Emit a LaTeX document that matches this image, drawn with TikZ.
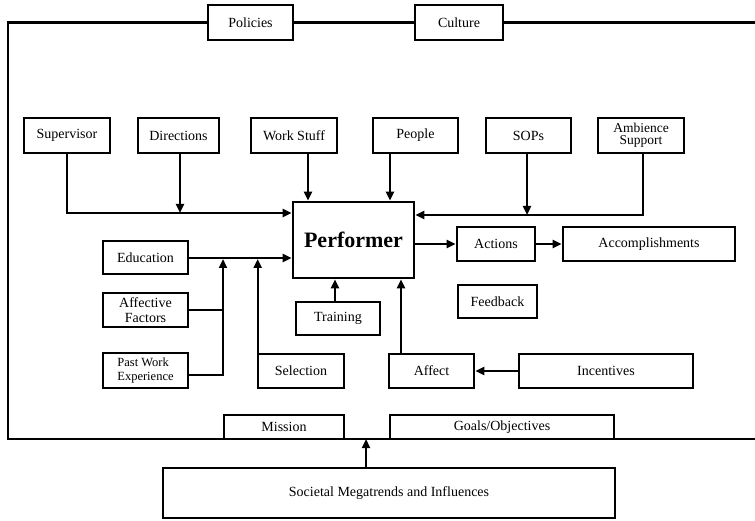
\documentclass[tikz,border=0pt]{standalone}
\usepackage{fontspec}
\setmainfont{Liberation Serif}
\usetikzlibrary{arrows.meta}
\begin{document}
\begin{tikzpicture}[x=1pt,y=-1pt,
  box/.style={draw, line width=2.6pt, inner sep=0pt, align=center,
    font=\fontsize{14}{14}\selectfont},
  conn/.style={line width=2.3pt},
  arr/.style={conn, -{Triangle[length=9pt,width=8pt]}}]
\useasboundingbox (0,0) rectangle (755,521);
% top
\node[box, minimum width=85pt, minimum height=35pt] (pol) at (250.5,22.5) {Policies};
\node[box, minimum width=88pt, minimum height=35pt] (cul) at (459,22.5) {Culture};
% top row
\node[box, minimum width=86pt, minimum height=35pt] (sup) at (67,135.5) {Supervisor};
\node[box, minimum width=81pt, minimum height=35pt] (dir) at (178.5,135.5) {Directions};
\node[box, minimum width=86pt, minimum height=35pt] (ws) at (294,135.5) {Work Stuff};
\node[box, minimum width=85pt, minimum height=35pt] (peo) at (415.5,135.5) {People};
\node[box, minimum width=85pt, minimum height=35pt] (sop) at (528.5,135.5) {SOPs};
\node[box, minimum width=86pt, minimum height=35pt, font=\fontsize{13.5}{12.5}\selectfont] (amb) at (641,135.5) {Ambience\\Support};
% centre
\node[box, minimum width=121pt, minimum height=76pt, font=\bfseries\fontsize{22}{22}\selectfont] (perf) at (353.5,240) {Performer};
\node[box, minimum width=85pt, minimum height=33pt] (edu) at (145.5,257.5) {Education};
\node[box, minimum width=85pt, minimum height=34pt, font=\fontsize{14}{15}\selectfont] (af) at (145.5,310) {Affective\\Factors};
\node[box, minimum width=85pt, minimum height=35pt, align=left, font=\fontsize{12.5}{14}\selectfont] (pw) at (145.5,370.5) {Past Work\\Experience};
\node[box, minimum width=86pt, minimum height=34pt] (sel) at (301,371) {Selection};
\node[box, minimum width=84pt, minimum height=33pt] (tr) at (338,318.5) {Training};
\node[box, minimum width=78pt, minimum height=34pt] (act) at (496,244) {Actions};
\node[box, minimum width=172pt, minimum height=34pt] (acc) at (649,244) {Accomplishments};
\node[box, minimum width=79pt, minimum height=33pt] (fb) at (497.5,301.5) {Feedback};
\node[box, minimum width=85pt, minimum height=34pt] (aff) at (431.5,371) {Affect};
\node[box, minimum width=174pt, minimum height=34pt] (inc) at (606,371) {Incentives};
% bottom
\node[box, minimum width=120pt, minimum height=24pt] (mis) at (284,427) {Mission};
\node[box, minimum width=224pt, minimum height=24pt] (goal) at (502,427) {Goals/Objectives};
\node[box, minimum width=452pt, minimum height=50pt] (soc) at (389,493) {Societal Megatrends and Influences};
% frame
\coordinate (tl) at (8,22.5);
\coordinate (bl) at (8,439);
\coordinate (br) at (755,439);
\coordinate (tr2) at (755,22.5);
\draw[conn] (pol.west) -- (tl) -- (bl) -- (br);
\draw[conn] (pol.east) -- (cul.west);
\draw[conn] (cul.east) -- (tr2);
% top connectors
\coordinate (sup1) at (67,213);
\draw[arr] (sup.south) |- (perf.west |- sup1);
\coordinate (d1) at ([xshift=1.5pt]dir.south);
\draw[arr] (d1) -- (d1 |- sup1);
\coordinate (w1) at ([xshift=14pt]ws.south);
\draw[arr] (w1) -- (w1 |- perf.north);
\coordinate (p1) at ([xshift=-25.5pt]peo.south);
\draw[arr] (p1) -- (p1 |- perf.north);
\coordinate (amb1) at (643,215);
\draw[arr] (amb.south -| amb1) |- (perf.east |- amb1);
\coordinate (s0) at ([xshift=-1.5pt]sop.south);
\draw[arr] (s0) -- (s0 |- amb1);
% left inputs
\coordinate (e1) at (200,258);
\draw[arr] (edu.east |- e1) -- (perf.west |- e1);
\coordinate (v1) at (223,375);
\draw[arr] (pw.east |- v1) -- (v1) -- ([yshift=-1pt]v1 |- e1);
\draw[conn] (af.east) -- (af.east -| v1);
\coordinate (sl1) at ([xshift=1pt]sel.north west);
\draw[arr] (sl1) -- ([yshift=-1pt]sl1 |- e1);
\coordinate (t1) at ([xshift=-3pt]tr.north);
\draw[arr] (t1) -- (t1 |- perf.south);
% right side
\coordinate (a1) at ([xshift=-30.5pt]aff.north);
\draw[arr] (a1) -- (a1 |- perf.south);
\draw[arr] (inc.west) -- (aff.east);
\draw[arr] (perf.east |- act.west) -- (act.west);
\draw[arr] (act.east) -- (acc.west);
% societal
\coordinate (so1) at ([xshift=-23pt]soc.north);
\draw[arr] (so1) -- (so1 |- br);
\end{tikzpicture}
\end{document}
